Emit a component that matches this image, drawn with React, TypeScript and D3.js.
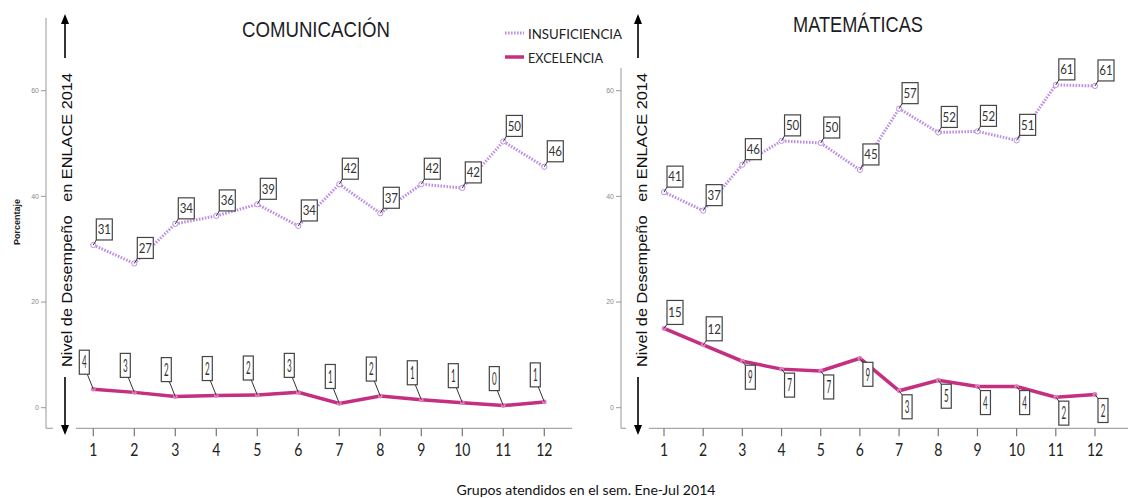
import * as d3 from "d3";

// grupos atendidos
const groups = [1, 2, 3, 4, 5, 6, 7, 8, 9, 10, 11, 12];
const yTicks = [0, 20, 40, 60];

// COMUNICACIÓN
const comInsuf = [30.8, 27.3, 34.8, 36.3, 38.5, 34.4, 42.3, 36.8, 42.3, 41.6, 50.4, 45.6];
const comInsufLabels = [31, 27, 34, 36, 39, 34, 42, 37, 42, 42, 50, 46];
const comExcel = [3.5, 2.9, 2.1, 2.3, 2.4, 2.9, 0.8, 2.2, 1.5, 0.95, 0.4, 1.1];
const comExcelLabels = [4, 3, 2, 2, 2, 3, 1, 2, 1, 1, 0, 1];

// MATEMÁTICAS
const matInsuf = [40.8, 37.3, 46, 50.5, 50.1, 45, 56.6, 52.1, 52.3, 50.6, 61.1, 60.9];
const matInsufLabels = [41, 37, 46, 50, 50, 45, 57, 52, 52, 51, 61, 61];
const matExcel = [15, 11.9, 8.8, 7.3, 6.95, 9.35, 3.2, 5.2, 4.0, 4.0, 2.0, 2.5];
const matExcelLabels = [15, 12, 9, 7, 7, 9, 3, 5, 4, 4, 2, 2];

const INSUF = "#bd8fe3";
const EXCEL = "#c42f7f";
const W = 1128;
const H = 498;
const LABEL_FONT = "Lato, 'Open Sans', sans-serif";

type BoxStyle = {
  w: number;
  h: number;
  sx: number;
  sy: number;
  gap: number;
  place: (v: number, i: number) => "ar" | "al" | "br";
};

const insufBox: BoxStyle = { w: 16, h: 21, sx: 1, sy: 1.15, gap: 5, place: () => "ar" };
const comExcelBox: BoxStyle = { w: 10, h: 24, sx: 0.7, sy: 1.5, gap: 15, place: () => "al" };
const matExcelBox: BoxStyle = {
  w: 10,
  h: 24,
  sx: 0.7,
  sy: 1.5,
  gap: 4,
  place: (v) => (v >= 10 ? "ar" : "br"),
};

function Arrow({ x, y1, y2 }: { x: number; y1: number; y2: number }) {
  const dir = y2 < y1 ? -1 : 1;
  return (
    <g>
      <line x1={x} x2={x} y1={y1} y2={y2 - dir * 9} stroke="#000" strokeWidth={1.6} />
      <path d={`M${x - 4},${y2 - dir * 10} L${x + 4},${y2 - dir * 10} L${x},${y2} Z`} fill="#000" />
    </g>
  );
}

function Labels({
  xs,
  ys,
  labels,
  box,
}: {
  xs: number[];
  ys: number[];
  labels: number[];
  box: BoxStyle;
}) {
  return (
    <g>
      {labels.map((lab, i) => {
        const px = xs[i];
        const py = ys[i];
        const p = box.place(lab, i);
        // two-digit values get a regular, wider box
        const wide = lab >= 10 && box.w < 14;
        const w = wide ? 16 : box.w;
        const h = wide ? 24 : box.h;
        const sx = wide ? 1 : box.sx;
        const sy = wide ? 1.2 : box.sy;
        let bx = px + 3;
        let by = py - box.gap - h;
        let lx = bx;
        let ly = by + h;
        if (p === "al") {
          bx = px - 4 - w;
          by = py - box.gap - h;
          lx = bx + w - 2;
          ly = by + h;
        } else if (p === "br") {
          bx = px + 3;
          by = py + box.gap;
          lx = bx;
          ly = by;
        }
        const cx = bx + w / 2;
        const cy = by + h / 2;
        return (
          <g key={i}>
            <line x1={px} y1={py} x2={lx} y2={ly} stroke="#333" strokeWidth={1} />
            <rect x={bx} y={by} width={w} height={h} fill="#fff" stroke="#444" strokeWidth={1.2} />
            <text
              transform={`translate(${cx},${cy}) scale(${sx},${sy})`}
              textAnchor="middle"
              dy="0.36em"
              fontSize={11.5}
              fontFamily={LABEL_FONT}
              fill="#333"
            >
              {lab}
            </text>
          </g>
        );
      })}
    </g>
  );
}

function Panel({
  title,
  titleX,
  titleY,
  titleLen,
  axisX,
  axisTop,
  xFirst,
  xLast,
  axisEnd,
  arrowX,
  labelX,
  insuf,
  insufLabels,
  excel,
  excelLabels,
  excelBox,
}: {
  title: string;
  titleX: number;
  titleY: number;
  titleLen: number;
  axisX: number;
  axisTop: number;
  xFirst: number;
  xLast: number;
  axisEnd: number;
  arrowX: number;
  labelX: number;
  insuf: number[];
  insufLabels: number[];
  excel: number[];
  excelLabels: number[];
  excelBox: BoxStyle;
}) {
  const x = d3.scaleLinear().domain([1, 12]).range([xFirst, xLast]);
  const y = d3.scaleLinear().domain([0, 60]).range([407.7, 90.7]);
  const baseY = 428.3;
  const line = d3
    .line<number>()
    .x((_, i) => x(groups[i]))
    .y((d) => y(d));
  const xs = groups.map((g) => x(g));
  const insY = insuf.map((v) => y(v));
  const excY = excel.map((v) => y(v));

  return (
    <g>
      <text
        x={titleX}
        y={titleY}
        textAnchor="middle"
        fontSize={22}
        fontFamily="'Liberation Sans Narrow', 'Arial Narrow', 'Liberation Sans', Arial, sans-serif"
        textLength={titleLen}
        lengthAdjust="spacingAndGlyphs"
        fill="#1c1c24"
      >
        {title}
      </text>

      {/* ejes */}
      <line x1={axisX} x2={axisX} y1={axisTop} y2={baseY} stroke="#a8a8a8" strokeWidth={1.2} />
      <line x1={axisX} x2={arrowX - 12} y1={baseY} y2={baseY} stroke="#a8a8a8" strokeWidth={1.2} />
      <line x1={arrowX + 11} x2={axisEnd} y1={baseY} y2={baseY} stroke="#a8a8a8" strokeWidth={1.2} />
      {yTicks.map((t) => (
        <g key={t}>
          <line x1={axisX - 5} x2={axisX} y1={y(t)} y2={y(t)} stroke="#999" strokeWidth={1} />
          <text
            x={axisX - 7}
            y={y(t)}
            dy="0.35em"
            textAnchor="end"
            fontSize={7}
            fontFamily="'Liberation Sans', Arial, sans-serif"
            fill="#8a8a8a"
          >
            {t}
          </text>
        </g>
      ))}
      {groups.map((g) => (
        <g key={g}>
          <line x1={x(g)} x2={x(g)} y1={baseY} y2={baseY + 8} stroke="#777" strokeWidth={1.2} />
          <text
            transform={`translate(${x(g)},${baseY + 28}) scale(1,1.2)`}
            textAnchor="middle"
            fontSize={14}
            fontFamily={LABEL_FONT}
            fill="#222"
          >
            {g}
          </text>
        </g>
      ))}

      {/* título del eje vertical */}
      <text
        transform={`translate(${labelX},220) rotate(-90)`}
        textAnchor="middle"
        dy="0.35em"
        fontSize={15}
        fontFamily="'Liberation Sans', Arial, sans-serif"
        textLength={294}
        lengthAdjust="spacingAndGlyphs"
        fill="#111"
        style={{ whiteSpace: "pre" }}
      >
        {"Nivel de Desempeño   en ENLACE 2014"}
      </text>
      <Arrow x={arrowX} y1={58} y2={14} />
      <Arrow x={arrowX} y1={377} y2={435} />

      {/* series */}
      <path d={line(insuf) ?? ""} fill="none" stroke={INSUF} strokeWidth={3} strokeDasharray="1.6 1.4" />
      {insY.map((py, i) => (
        <circle key={i} cx={xs[i]} cy={py} r={2.6} fill="#fff" stroke={INSUF} strokeWidth={1} />
      ))}
      <path d={line(excel) ?? ""} fill="none" stroke={EXCEL} strokeWidth={3.5} />
      {excY.map((py, i) => (
        <circle key={i} cx={xs[i]} cy={py} r={2.4} fill="#e27cc2" stroke="none" />
      ))}

      <Labels xs={xs} ys={insY} labels={insufLabels} box={insufBox} />
      <Labels xs={xs} ys={excY} labels={excelLabels} box={excelBox} />
    </g>
  );
}

export default function App() {
  return (
    <svg
      width={W}
      height={H}
      viewBox={`0 0 ${W} ${H}`}
      style={{ position: "absolute", left: 0, top: 0, background: "#fff" }}
    >
      <rect width={W} height={H} fill="#fff" />
      <text
        transform="translate(20,222) rotate(-90)"
        textAnchor="middle"
        fontSize={9}
        fontWeight="bold"
        fontFamily="'Liberation Sans', Arial, sans-serif"
        fill="#222"
      >
        Porcentaje
      </text>

      <Panel
        title="COMUNICACIÓN"
        titleX={316}
        titleY={37}
        titleLen={148}
        axisX={46}
        axisTop={18}
        xFirst={93.3}
        xLast={544.3}
        axisEnd={572}
        arrowX={65}
        labelX={67}
        insuf={comInsuf}
        insufLabels={comInsufLabels}
        excel={comExcel}
        excelLabels={comExcelLabels}
        excelBox={comExcelBox}
      />
      <Panel
        title="MATEMÁTICAS"
        titleX={858}
        titleY={32}
        titleLen={130}
        axisX={621}
        axisTop={68}
        xFirst={664}
        xLast={1095}
        axisEnd={1128}
        arrowX={638}
        labelX={641.5}
        insuf={matInsuf}
        insufLabels={matInsufLabels}
        excel={matExcel}
        excelLabels={matExcelLabels}
        excelBox={matExcelBox}
      />

      {/* leyenda */}
      <line x1={505} x2={524} y1={33} y2={33} stroke={INSUF} strokeWidth={3} strokeDasharray="1.6 1.4" />
      <text x={528} y={38.5} fontSize={13} fontFamily={LABEL_FONT} textLength={94} lengthAdjust="spacingAndGlyphs" fill="#222">
        INSUFICIENCIA
      </text>
      <line x1={505} x2={524} y1={57} y2={57} stroke={EXCEL} strokeWidth={3.5} />
      <text x={528} y={62.5} fontSize={13} fontFamily={LABEL_FONT} textLength={75} lengthAdjust="spacingAndGlyphs" fill="#222">
        EXCELENCIA
      </text>

      <text
        x={586}
        y={495}
        textAnchor="middle"
        fontSize={13.5}
        fontFamily={LABEL_FONT}
        textLength={259}
        lengthAdjust="spacingAndGlyphs"
        fill="#111"
      >
        Grupos atendidos en el sem. Ene-Jul 2014
      </text>
    </svg>
  );
}
